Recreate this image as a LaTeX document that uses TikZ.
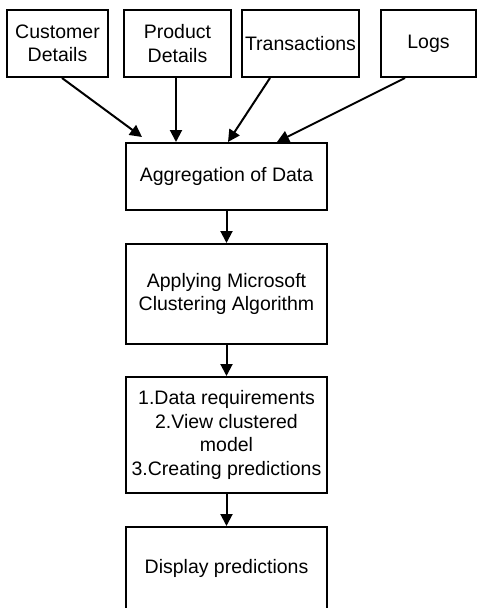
\documentclass[tikz,border=0pt]{standalone}
\usepackage{fontspec}
\setmainfont{Liberation Sans}
\usetikzlibrary{arrows.meta}
\begin{document}
\begin{tikzpicture}[x=1pt,y=-1pt,
  box/.style={draw,line width=2pt,rectangle,inner sep=0pt,align=center,
    font=\fontsize{19.5}{23.5}\selectfont},
  arr/.style={line width=2pt,-{Triangle[length=12pt,width=12pt]}}]
\useasboundingbox (0,0) rectangle (477,608);
\node[box,minimum width=101pt,minimum height=67pt] (cust) at (57.5,43.5) {Customer\\Details};
\node[box,minimum width=107pt,minimum height=67pt] (prod) at (177.5,43.5) {Product\\Details};
\node[box,minimum width=117pt,minimum height=67pt] (trans) at (300.5,43.5) {Transactions};
\node[box,minimum width=95pt,minimum height=67pt] (logs) at (428.5,43.5) {Logs};
\node[box,minimum width=201pt,minimum height=67pt] (agg) at (226.5,176.5) {Aggregation of Data};
\node[box,minimum width=201pt,minimum height=100pt] (app) at (226.5,294) {Applying Microsoft\\Clustering Algorithm};
\node[box,minimum width=201pt,minimum height=116pt] (steps) at (226.5,435) {1.Data requirements\\2.View clustered\\model\\3.Creating predictions};
\node[box,minimum width=201pt,minimum height=82pt] (disp) at (226.5,568) {Display predictions};
\draw[arr] ([xshift=4.5pt]cust.south) -- ([xshift=-84.5pt,yshift=5pt]agg.north);
\draw[arr] ([xshift=-1.5pt]prod.south) -- ([xshift=-50.5pt]agg.north);
\draw[arr] ([xshift=-30.5pt]trans.south) -- ([xshift=1.5pt]agg.north);
\draw[arr] ([xshift=-23.5pt]logs.south) -- ([xshift=50.5pt]agg.north);
\draw[arr] (agg.south) -- (app.north);
\draw[arr] (app.south) -- (steps.north);
\draw[arr] (steps.south) -- (disp.north);
\end{tikzpicture}
\end{document}
